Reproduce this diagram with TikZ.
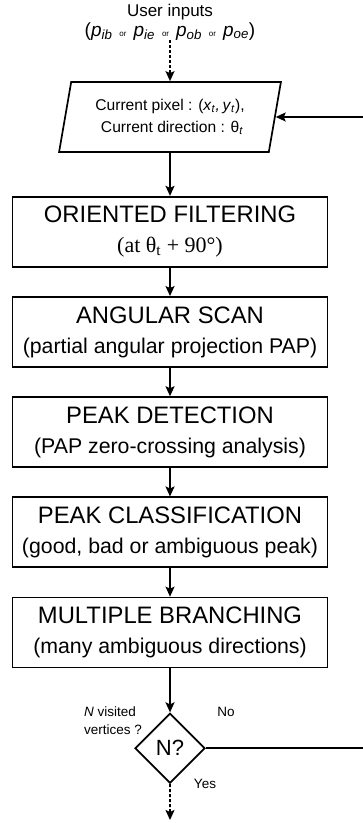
\documentclass[tikz,border=0pt]{standalone}
\usepackage{fontspec}
\setmainfont{Liberation Sans}
\newfontfamily\notefont{Liberation Serif}
\usepackage{tikz}
\usetikzlibrary{positioning,calc,shapes.geometric,arrows.meta}
\newcommand{\orword}{\hspace{7pt}{\fontsize{8}{8}\selectfont or}\hspace{7pt}}

\tikzset{
  stagebox/.style={draw, line width=1.7pt, minimum width=315pt, minimum height=70pt,
                   inner sep=0pt, align=center, font=\fontsize{23.8}{30}\selectfont},
  flowarrow/.style={line width=1.7pt, -{Stealth[length=10pt,width=9pt,inset=2pt]}},
  userarrow/.style={flowarrow, dash pattern=on 3pt off 2pt},
  smalllabel/.style={inner sep=0pt, font=\fontsize{13.5}{18}\selectfont}
}

\begin{document}
\begin{tikzpicture}[x=1pt, y=1pt, node distance=28.5pt]
  \useasboundingbox (0,0) rectangle (363,-823);

  % inputs and current state
  \node[align=center, inner sep=0pt, font=\fontsize{17}{20}\selectfont] (user) at (170,-22)
    {User inputs\\
     {\fontsize{19}{20}\selectfont(\textit{p}\textsubscript{\textit{ib}}\orword\textit{p}\textsubscript{\textit{ie}}\orword
      \textit{p}\textsubscript{\textit{ob}}\orword\textit{p}\textsubscript{\textit{oe}})}};
  \node[trapezium, trapezium left angle=75.6, trapezium right angle=104.4,
        trapezium stretches=true, draw, line width=1.7pt,
        minimum width=222pt, minimum height=70pt, inner sep=0pt, align=center,
        font=\fontsize{15.6}{22}\selectfont] (pixel) at (170,-117)
    {Current pixel : (\textit{x}\textsubscript{\textit{t}}\textit{,}\,\textit{y}\textsubscript{\textit{t}}),\\
     \ Current direction : θ\textsubscript{\textit{t}}};

  % processing stages
  \node[stagebox, below=43pt of pixel] (filter)
    {ORIENTED FILTERING\\ {\notefont\fontsize{22}{30}\selectfont (at θ\textsubscript{t} + 90°)}};
  \node[stagebox, below=of filter] (scan)
    {ANGULAR SCAN\\ {\fontsize{21.3}{30}\selectfont (partial angular projection PAP)}};
  \node[stagebox, below=of scan] (detect)
    {PEAK DETECTION\\ {\fontsize{21.3}{30}\selectfont (PAP zero-crossing analysis)}};
  \node[stagebox, below=of detect] (classify)
    {PEAK CLASSIFICATION\\ {\fontsize{21.3}{30}\selectfont (good, bad or ambiguous peak)}};
  \node[stagebox, below=of classify] (branch)
    {MULTIPLE BRANCHING\\ {\fontsize{21.3}{30}\selectfont (many ambiguous directions)}};

  % stop test
  \node[diamond, draw, line width=1.7pt, minimum width=70pt, minimum height=70pt,
        inner sep=0pt, font=\fontsize{22}{24}\selectfont, below=44pt of branch] (check) {N?};
  \node[smalllabel, align=left] (visits) at (113,-721) {\textit{N} visited\\vertices ?};
  \node[smalllabel] (nolabel) at (226,-712) {No};
  \node[smalllabel] (yeslabel) at (205,-784) {Yes};
  \coordinate (exit) at (170,-820);

  \draw[userarrow] (user) -- (pixel);
  \draw[flowarrow] (pixel) -- (filter);
  \draw[flowarrow] (filter) -- (scan);
  \draw[flowarrow] (scan) -- (detect);
  \draw[flowarrow] (detect) -- (classify);
  \draw[flowarrow] (classify) -- (branch);
  \draw[flowarrow] (branch) -- (check);
  \draw[userarrow] (check) -- (exit);
  \draw[flowarrow] (check.east) -- ++(170,0) |- (pixel.east);
\end{tikzpicture}
\end{document}
